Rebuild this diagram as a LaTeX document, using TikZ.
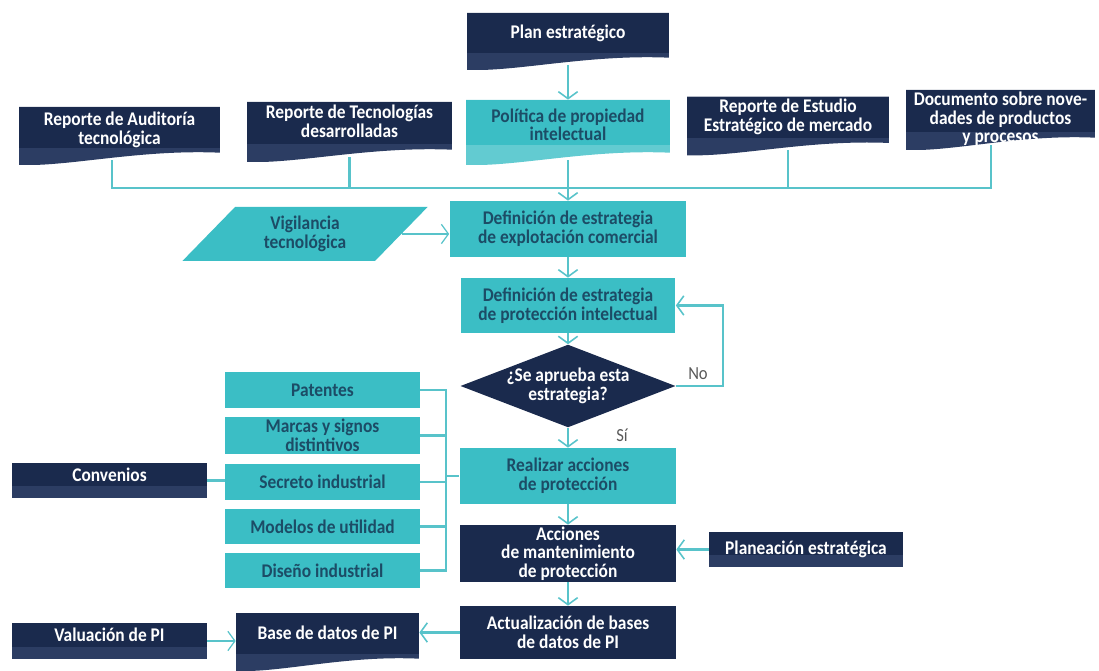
\documentclass[tikz,border=0pt]{standalone}
\usepackage{fontspec}
\setmainfont{Carlito}[FakeStretch=0.9]
\usetikzlibrary{shapes.geometric,arrows.meta,calc}
\definecolor{navy}{HTML}{1A2A4D}
\definecolor{navyband}{HTML}{2C3D63}
\definecolor{tealfill}{HTML}{3BBEC5}
\definecolor{tealband}{HTML}{62CBD1}
\definecolor{tealtext}{HTML}{1C4C66}
\definecolor{linkteal}{HTML}{58C3CA}
\colorlet{docmain}{navy}
\colorlet{docband}{navyband}
\tikzset{
  docshape/.style={rectangle, fill=white, text depth=10pt, path picture={
    \fill[docband] let \p1=(path picture bounding box.south west), \p2=(path picture bounding box.north east) in
      (\x1,\y2) -- (\x2,\y2) -- (\x2,\y1+7pt)
      .. controls ({0.4*\x1+0.6*\x2},{\y1+9pt}) and ({0.75*\x1+0.25*\x2},{\y1-1pt}) .. (\x1,\y1) -- cycle;
    \fill[docmain] let \p1=(path picture bounding box.south west), \p2=(path picture bounding box.north east) in
      (\x1,\y2) rectangle (\x2,{0.7*\y1+0.3*\y2});}},
  navydoc/.style={docshape, text=white, /utils/exec={\colorlet{docmain}{navy}\colorlet{docband}{navyband}}},
  tealdoc/.style={docshape, text=tealtext, /utils/exec={\colorlet{docmain}{tealfill}\colorlet{docband}{tealband}}},
  band/.style={path picture={\fill[navyband] (path picture bounding box.south west) rectangle ($(path picture bounding box.south east)+(0,7pt)$);}}
}

\begin{document}
\begin{tikzpicture}[x=0.02cm, y=-0.02cm,
  every node/.style={align=center, inner sep=1.5pt, font=\bfseries\fontsize{11}{10.6}\selectfont},
  navybox/.style={rectangle, fill=navy, text=white},
  tealbox/.style={rectangle, fill=tealfill, text=tealtext},
  link/.style={draw=linkteal, line width=1.4pt},
  flow/.style={link, -{Straight Barb[length=4pt,width=11pt,line width=0.9pt]}},
  thinflow/.style={draw=linkteal, line width=0.7pt, -{Straight Barb[length=4pt,width=11pt,line width=0.7pt]}},
  answer/.style={font=\fontsize{10.5}{12}\selectfont, text=black!65}]
\useasboundingbox (0,0) rectangle (1099,671);

% top row of documents
\node[navydoc, minimum width=4.04cm, minimum height=1.14cm, text depth=11pt] (plan) at (568,41.5) {Plan estratégico};
\node[tealdoc, minimum width=4.08cm, minimum height=1.3cm, text depth=9pt] (pol) at (568,132.5) {Política de propiedad\\intelectual};
\node[navydoc, minimum width=4.02cm, minimum height=1.16cm, text depth=9pt] (aud) at (119.5,136) {Reporte de Auditoría\\tecnológica};
\node[navydoc, minimum width=4.1cm, minimum height=1.2cm, text depth=12pt] (tec) at (349.5,132) {Reporte de Tecnologías\\desarrolladas};
\node[navydoc, minimum width=4.04cm, minimum height=1.16cm, text depth=12pt] (est) at (788,126) {Reporte de Estudio\\Estratégico de mercado};
\node[navydoc, minimum width=3.78cm, minimum height=1.2cm, text depth=3pt, inner sep=0.5pt] (doc) at (1000.5,120) {Documento sobre nove-\\dades de productos\\y procesos};

% main column
\node[trapezium, trapezium left angle=51, trapezium right angle=129, trapezium stretches=true, fill=tealfill, text=tealtext, minimum width=4.92cm, minimum height=1.08cm] (vig) at (305,234) {Vigilancia\\tecnológica};
\node[tealbox, minimum width=4.74cm, minimum height=1.12cm] (expl) at (568,229) {Definición de estrategia\\de explotación comercial};
\node[tealbox, minimum width=4.3cm, minimum height=1.1cm] (prot) at (568,305.5) {Definición de estrategia\\de protección intelectual};
\node[diamond, aspect=2.6, inner sep=0pt, fill=navy, text=white, minimum width=4.26cm, minimum height=1.64cm] (dia) at (568,386) {¿Se aprueba esta\\estrategia?};
\node[tealbox, minimum width=4.34cm, minimum height=1.12cm] (real) at (568,476) {Realizar acciones\\de protección};
\node[navybox, minimum width=4.32cm, minimum height=1.14cm, inner sep=0.5pt] (acc) at (568,553.5) {Acciones\\de mantenimiento\\de protección};
\node[navybox, minimum width=4.32cm, minimum height=1.06cm] (act) at (568,632.5) {Actualización de bases\\de datos de PI};
\node[navybox, band, minimum width=3.88cm, minimum height=0.7cm] (plane) at (806,549.5) {Planeación estratégica};

% protection types
\node[tealbox, minimum width=3.9cm, minimum height=0.72cm] (pat) at (322.5,390) {Patentes};
\node[tealbox, minimum width=3.9cm, minimum height=0.74cm] (mar) at (322.5,435.5) {Marcas y signos\\distintivos};
\node[tealbox, minimum width=3.9cm, minimum height=0.72cm] (sec) at (322.5,482) {Secreto industrial};
\node[tealbox, minimum width=3.9cm, minimum height=0.7cm] (mod) at (322.5,526.5) {Modelos de utilidad};
\node[tealbox, minimum width=3.9cm, minimum height=0.7cm] (dis) at (322.5,570.5) {Diseño industrial};
\node[navybox, band, minimum width=3.9cm, minimum height=0.7cm, text depth=7pt] (conv) at (109.5,480.5) {Convenios};

% bottom row
\node[navydoc, minimum width=3.66cm, minimum height=1.16cm, text depth=11pt] (base) at (327.5,642) {Base de datos de PI};
\node[navybox, band, minimum width=3.9cm, minimum height=0.72cm, text depth=7pt] (val) at (109.5,641) {Valuación de PI};

% connectors
\coordinate (busw) at (112,188);
\coordinate (buse) at (991,188);
\coordinate (brk) at (446,390);
\draw[flow] ($(plan.south)+(0,3pt)$) -- (pol.north);
\draw[link] ($(busw |- aud.south)+(0,3pt)$) -- (busw) -- (buse) -- ($(buse |- doc.south)+(0,3pt)$);
\draw[link] ($(tec.south)+(0,3pt)$) -- (tec.south |- busw);
\draw[link] ($(est.south)+(0,3pt)$) -- (est.south |- busw);
\draw[flow] ($(pol.south)+(0,3pt)$) -- (expl.north);
\draw[thinflow] (vig.east) -- (vig.east -| expl.west);
\draw[flow] (expl.south) -- (prot.north);
\draw[flow] (prot.south) -- (dia.north);
\draw[flow] (dia.east) -- ++(47,0) |- (prot.east);
\node[answer] (no) at (698,374) {No};
\draw[flow] (dia.south) -- (real.north);
\node[answer] (si) at (622,435) {Sí};
\draw[link] (pat.east) -- (pat.east -| brk) -- (brk |- dis.east) -- (dis.east);
\foreach \n in {mar,sec,mod} \draw[link] (\n.east) -- (brk |- \n.east);
\draw[link] (brk |- real.west) -- (real.west);
\draw[link] (conv.east) -- (conv.east -| sec.west);
\draw[flow] (real.south) -- (acc.north);
\draw[flow] (acc.south) -- (act.north);
\draw[flow] (plane.west) -- (plane.west -| acc.east);
\draw[flow] (act.west) -- (act.west -| base.east);
\draw[thinflow] (val.east) -- (val.east -| base.west);
\end{tikzpicture}
\end{document}
